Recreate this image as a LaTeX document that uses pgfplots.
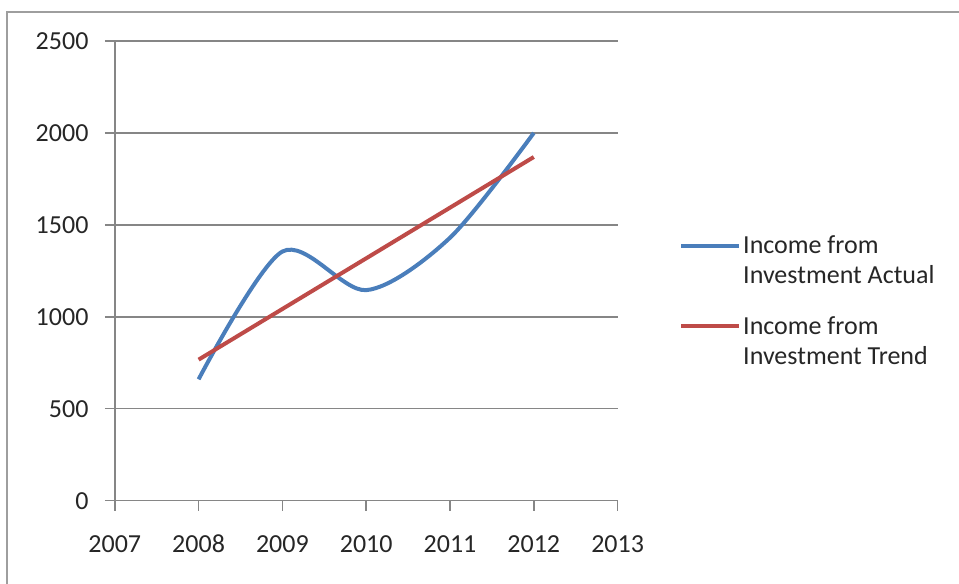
\documentclass[border=0pt]{standalone}
\usepackage{pgfplots}
\pgfplotsset{compat=1.18}
\usepackage{fontspec}
\setmainfont{Carlito}
\definecolor{xlblue}{HTML}{4A7EBB}
\definecolor{xlred}{HTML}{BE4B48}
\definecolor{xlgrid}{HTML}{868686}
\definecolor{xltext}{HTML}{262626}
\begin{document}
\begin{tikzpicture}
\useasboundingbox (0,0) rectangle (719.25pt,438pt);
\draw[color=black!38, line width=1.4pt] (5.25pt,0pt) -- (5.25pt,429pt) -- (719.25pt,429pt);
\begin{axis}[
  at={(86.1pt,62.5pt)}, anchor=south west,
  scale only axis, width=377.1pt, height=344.75pt,
  xmin=2007, xmax=2013, ymin=0, ymax=2500,
  xtick={2007,2008,2009,2010,2011,2012,2013},
  ytick={0,500,1000,1500,2000,2500},
  axis x line*=bottom, axis y line*=left,
  axis line style={color=xlgrid, line width=1.1pt, -},
  ymajorgrids, grid style={color=xlgrid, line width=1.1pt},
  tick align=outside, major tick length=7.5pt,
  tick style={color=xlgrid, line width=1.1pt},
  /pgf/number format/1000 sep={},
  /pgf/number format/assume math mode=true,
  tick label style={font=\fontsize{19.5pt}{22.5pt}\selectfont, color=xltext},
  yticklabel style={xshift=-8.75pt},
  xticklabel style={yshift=-14.5pt, text height=13pt, text depth=0pt},
  legend style={at={(1.122,0.583)}, anchor=north west, draw=none, fill=none,
    font=\fontsize{19.5pt}{22.5pt}\selectfont, text=xltext,
    cells={align=left, anchor=west}, row sep=19.25pt, inner sep=0pt},
  legend cell align=left,
  legend image code/.code={\path[draw=none] (3pt,-11.25pt) rectangle (46pt,11.25pt);
    \draw[#1, line width=3pt] (3pt,11.25pt) -- (46pt,11.25pt);},
]
\addplot[color=xlblue, line width=3pt, smooth, tension=0.5] coordinates {
  (2008,660) (2009,1355) (2010,1145) (2011,1430) (2012,2000)
};
\addlegendentry{Income from\\Investment Actual}
\addplot[color=xlred, line width=3pt] coordinates {
  (2008,767) (2009,1042.5) (2010,1318) (2011,1593.5) (2012,1869)
};
\addlegendentry{Income from\\Investment Trend}
\end{axis}
\end{tikzpicture}
\end{document}
